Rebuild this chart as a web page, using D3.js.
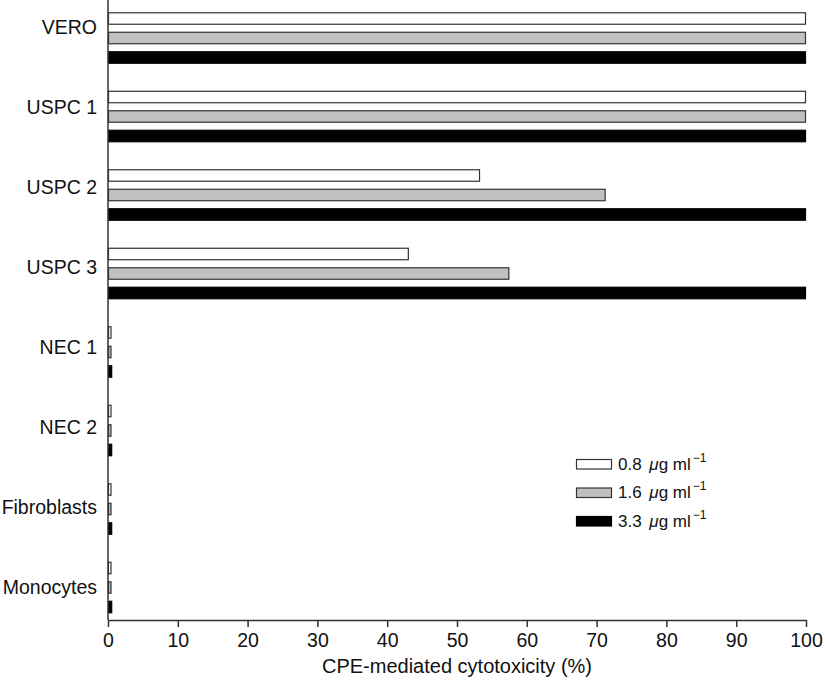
<!DOCTYPE html>
<html>
<head>
<meta charset="utf-8">
<script src="https://cdn.jsdelivr.net/npm/d3@7"></script>
<style>
  body { margin: 0; background: #fff; }
  svg { display: block; font-family: "Liberation Sans", Arial, sans-serif; }
</style>
</head>
<body>
<div id="chart"></div>
<script>
// Cell lines, top to bottom
const cells = ["VERO", "USPC 1", "USPC 2", "USPC 3", "NEC 1", "NEC 2", "Fibroblasts", "Monocytes"];
// CPE concentrations (µg/ml)
const doses = ["0.8", "1.6", "3.3"];
// Cytotoxicity (%) per dose, in cell order
const dose08 = [100, 100, 53.3, 43.1, 0.5, 0.5, 0.5, 0.5];
const dose16 = [100, 100, 71.3, 57.5, 0.5, 0.5, 0.5, 0.5];
const dose33 = [100, 100, 100, 100, 0.6, 0.6, 0.6, 0.6];
const xTicks = [0, 10, 20, 30, 40, 50, 60, 70, 80, 90, 100];

const fills = ["#ffffff", "#c0c0c0", "#000000"];
const series = [dose08, dose16, dose33];

const width = 825, height = 680;
const left = 108, right = 806, bottom = 620;

const svg = d3.select("#chart").append("svg")
  .attr("width", width)
  .attr("height", height);

const x = d3.scaleLinear().domain([0, 100]).range([left, right]);

// bar groups and the category labels sit on slightly different spacings
const yGroup = d3.scaleBand().domain(cells).range([-1.25, 626.75]);
const yLabel = d3.scaleBand().domain(cells).range([-12, 628]);
const yDose = d3.scaleBand().domain(doses)
  .range([-29.25, 29.25]).paddingInner(0.36).paddingOuter(0.18);

// Bars
const rows = cells.map((c, i) => ({ cell: c, vals: series.map((s) => s[i]) }));

const group = svg.append("g")
  .selectAll("g")
  .data(rows)
  .join("g")
  .attr("transform", (d) => `translate(0,${yGroup(d.cell) + yGroup.bandwidth() / 2})`);

group.selectAll("rect")
  .data((d) => d.vals.map((v, k) => ({ dose: doses[k], v, k })))
  .join("rect")
  .attr("x", x(0) + 0.5)
  .attr("y", (d) => yDose(d.dose) + 0.5)
  .attr("width", (d) => Math.max(0, x(d.v) - x(0) - 1))
  .attr("height", yDose.bandwidth() - 1)
  .attr("fill", (d) => fills[d.k])
  .attr("stroke", (d) => (d.k === 2 ? "#000" : "#333"))
  .attr("stroke-width", 1.2);

// Y axis: labels only, plus a plain line
const yAxis = svg.append("g")
  .attr("transform", `translate(${left},0)`)
  .call(d3.axisLeft(yLabel).tickSize(0).tickPadding(11));
yAxis.select(".domain").remove();
yAxis.selectAll("text")
  .attr("font-size", "19.5px")
  .attr("font-family", "'Liberation Sans', Arial, sans-serif")
  .attr("fill", "#111");

svg.append("line")
  .attr("x1", left).attr("x2", left)
  .attr("y1", 0).attr("y2", bottom)
  .attr("stroke", "#333").attr("stroke-width", 1.5);

// X axis
const xAxis = svg.append("g")
  .attr("transform", `translate(0,${bottom})`)
  .call(d3.axisBottom(x).tickValues(xTicks).tickSize(7).tickSizeOuter(0).tickPadding(6));
xAxis.select(".domain").attr("stroke", "#333").attr("stroke-width", 1.5);
xAxis.selectAll(".tick line").attr("stroke", "#333").attr("stroke-width", 1.5);
xAxis.selectAll("text")
  .attr("font-size", "19.5px")
  .attr("font-family", "'Liberation Sans', Arial, sans-serif")
  .attr("fill", "#111");

svg.append("text")
  .attr("x", (left + right) / 2)
  .attr("y", 673)
  .attr("text-anchor", "middle")
  .attr("font-size", "20px")
  .attr("fill", "#111")
  .text("CPE-mediated cytotoxicity (%)");

// Legend
const legend = svg.append("g")
  .selectAll("g")
  .data(doses)
  .join("g")
  .attr("transform", (d, i) => `translate(576,${459 + i * 28.5})`);

legend.append("rect")
  .attr("x", 0.5).attr("y", 0.5)
  .attr("width", 35).attr("height", 9.5)
  .attr("fill", (d, i) => fills[i])
  .attr("stroke", (d, i) => (i === 2 ? "#000" : "#333"))
  .attr("stroke-width", 1.2);

const lt = legend.append("text")
  .attr("x", 42)
  .attr("y", 10.5)
  .attr("font-size", "17px")
  .attr("fill", "#111");
lt.append("tspan").text((d) => d + " ");
lt.append("tspan").attr("dx", 3).attr("font-style", "italic").text("\u03bc");
lt.append("tspan").text("g ml");
lt.append("tspan").attr("dx", 2).attr("dy", -8).attr("font-size", "12px").text("\u22121");
</script>
</body>
</html>
